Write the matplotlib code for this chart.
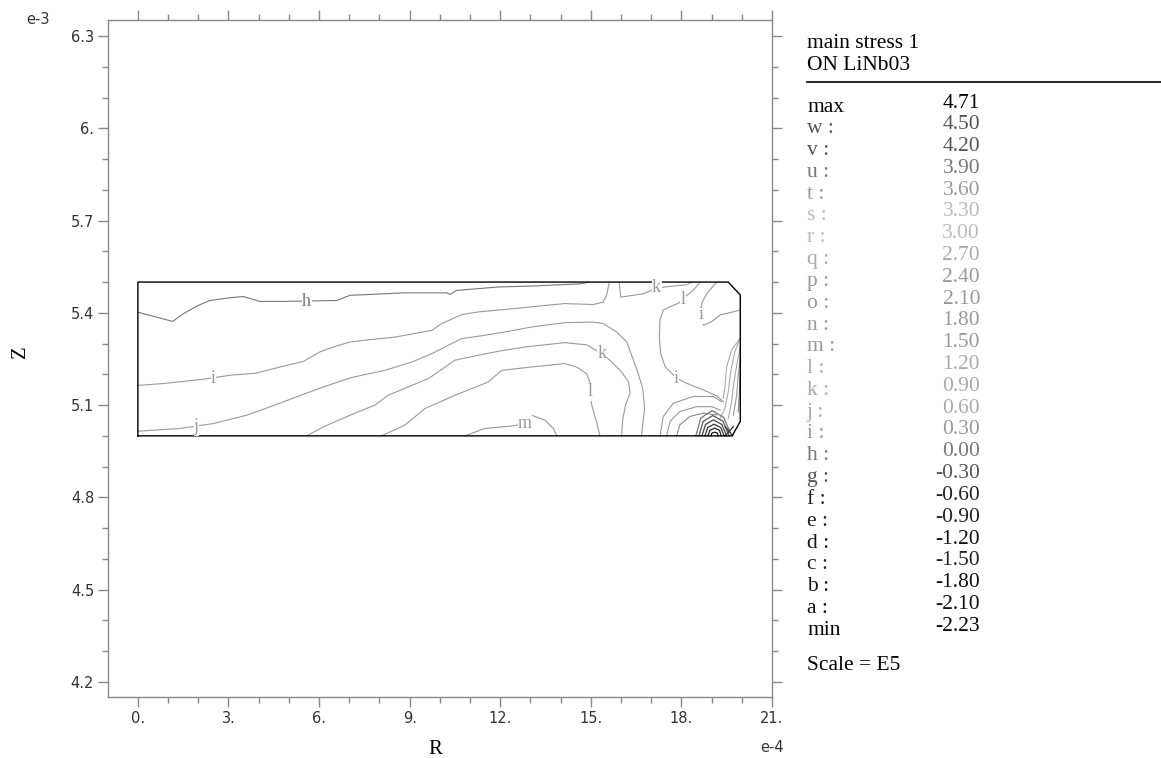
import matplotlib
matplotlib.use('Agg')
import matplotlib.pyplot as plt
from matplotlib.ticker import MultipleLocator, FixedLocator, FixedFormatter

# axis ticks
r_ticks = [0, 3, 6, 9, 12, 15, 18, 21]
r_labels = ['0.', '3.', '6.', '9.', '12.', '15.', '18.', '21.']
z_ticks = [4.2, 4.5, 4.8, 5.1, 5.4, 5.7, 6.0, 6.3]
z_labels = ['4.2', '4.5', '4.8', '5.1', '5.4', '5.7', '6.', '6.3']

# LiNbO3 domain outline (R e-4, Z e-3)
dom_r = [0, 0, 19.55, 19.95, 19.95, 19.68, 0]
dom_z = [5.0, 5.5, 5.5, 5.458, 5.047, 5.0, 5.0]

# iso lines
h_r = [0.0, 1.15, 1.50, 2.00, 2.38, 3.05, 3.49, 4.04, 4.70, 6.58, 7.02, 7.74, 8.84, 10.22, 10.34, 10.56, 11.94, 13.04, 13.92, 14.64, 14.81, 14.92]
h_z = [5.402, 5.372, 5.397, 5.424, 5.440, 5.449, 5.453, 5.437, 5.437, 5.440, 5.457, 5.460, 5.465, 5.465, 5.460, 5.473, 5.484, 5.487, 5.491, 5.494, 5.497, 5.500]

i_r = [0.0, 0.84, 2.16, 3.05, 3.93, 4.15, 4.92, 5.48, 6.03, 6.47, 7.02, 7.52, 8.51, 9.73, 10.06, 10.72, 11.27, 12.38, 13.48, 14.14, 15.08, 15.41, 15.52, 15.61]
i_z = [5.164, 5.170, 5.184, 5.197, 5.204, 5.210, 5.229, 5.242, 5.273, 5.289, 5.305, 5.311, 5.321, 5.343, 5.365, 5.394, 5.403, 5.413, 5.424, 5.430, 5.427, 5.435, 5.457, 5.498]

j_r = [0.0, 1.39, 2.50, 3.60, 4.37, 5.26, 6.14, 7.02, 7.41, 8.18, 9.07, 9.73, 10.39, 10.72, 11.49, 12.16, 13.04, 14.14, 15.08, 15.41, 15.85, 16.19, 16.35, 16.55, 16.72, 16.78, 16.72, 16.68]
j_z = [5.015, 5.024, 5.040, 5.067, 5.094, 5.127, 5.159, 5.188, 5.197, 5.213, 5.240, 5.267, 5.300, 5.316, 5.327, 5.338, 5.354, 5.368, 5.370, 5.365, 5.338, 5.305, 5.262, 5.208, 5.154, 5.089, 5.040, 5.0]

k_r = [5.59, 6.14, 7.02, 7.85, 8.29, 9.07, 9.62, 10.50, 11.27, 11.94, 12.82, 14.14, 14.86, 15.36, 15.63, 16.0, 16.25, 16.30, 16.15, 16.05, 16.02]
k_z = [5.0, 5.029, 5.067, 5.100, 5.132, 5.164, 5.186, 5.246, 5.262, 5.275, 5.289, 5.303, 5.296, 5.267, 5.246, 5.210, 5.175, 5.140, 5.100, 5.050, 5.0]

l_r = [8.07, 8.84, 9.51, 10.50, 11.60, 12.05, 13.04, 14.14, 14.53, 14.86, 14.97, 14.97, 15.03, 15.19, 15.30]
l_z = [5.0, 5.035, 5.089, 5.132, 5.175, 5.213, 5.224, 5.235, 5.224, 5.202, 5.175, 5.143, 5.100, 5.045, 5.0]

m_r = [10.83, 11.49, 12.38, 12.82, 12.95, 13.04, 13.48, 13.76, 13.87]
m_z = [5.0, 5.024, 5.032, 5.040, 5.056, 5.067, 5.051, 5.024, 5.0]

ktop_r = [15.94, 15.99, 16.74, 17.18, 17.62, 18.17, 18.35]
ktop_z = [5.5, 5.451, 5.462, 5.480, 5.486, 5.491, 5.5]

loop_r = [18.62, 18.40, 18.12, 17.90, 17.62, 17.40, 17.29, 17.27, 17.31, 17.46, 17.73, 17.84, 18.17, 18.73, 19.17, 19.39]
loop_z = [5.5, 5.474, 5.452, 5.431, 5.420, 5.409, 5.377, 5.322, 5.268, 5.225, 5.198, 5.187, 5.171, 5.149, 5.130, 5.111]

itop_r = [19.17, 18.84, 18.67, 18.64, 18.73, 19.00, 19.28, 19.95]
itop_z = [5.5, 5.463, 5.431, 5.393, 5.360, 5.371, 5.393, 5.409]

# lines hugging the right edge
ea_r = [19.95, 19.77, 19.63, 19.55, 19.44, 19.28]
ea_z = [5.321, 5.273, 5.208, 5.143, 5.089, 5.056]
eb_r = [19.95, 19.85, 19.74, 19.66, 19.55]
eb_z = [5.289, 5.240, 5.175, 5.110, 5.056]
ec_r = [19.95, 19.88, 19.83, 19.72]
ec_z = [5.251, 5.197, 5.132, 5.067]
ed_r = [19.95, 19.92, 19.88]
ed_z = [5.208, 5.143, 5.078]
ee_r = [19.94, 19.66, 19.50, 19.44, 19.39]
ee_z = [5.317, 5.279, 5.225, 5.160, 5.122]

# wide arcs around the corner singularity
w1_r = [17.29, 17.40, 17.73, 18.39, 19.06, 19.33]
w1_z = [5.0, 5.063, 5.106, 5.128, 5.128, 5.111]
w2_r = [17.51, 17.62, 17.95, 18.50, 19.00, 19.28]
w2_z = [5.0, 5.047, 5.079, 5.095, 5.095, 5.084]
w3_r = [17.84, 17.95, 18.28, 18.73, 19.17]
w3_z = [5.0, 5.036, 5.063, 5.074, 5.068]

# dense arcs at the corner
c1_r = [18.98, 19.01, 19.10, 19.19, 19.22]
c1_z = [5.0, 5.009, 5.012, 5.009, 5.0]
c2_r = [18.88, 18.94, 19.10, 19.26, 19.32]
c2_z = [5.0, 5.018, 5.025, 5.018, 5.0]
c3_r = [18.78, 18.87, 19.08, 19.30, 19.42]
c3_z = [5.0, 5.027, 5.038, 5.027, 5.0]
c4_r = [18.68, 18.80, 19.06, 19.34, 19.50]
c4_z = [5.0, 5.037, 5.052, 5.037, 5.0]
c5_r = [18.58, 18.72, 19.04, 19.38, 19.58]
c5_z = [5.0, 5.047, 5.066, 5.047, 5.0]
c6_r = [18.48, 18.64, 19.02, 19.40, 19.62]
c6_z = [5.0, 5.058, 5.082, 5.060, 5.01]
x1_r = [19.45, 19.72]
x1_z = [5.0, 5.03]
x2_r = [19.45, 19.70]
x2_z = [5.03, 5.0]

# in-line labels
lab_text = ['h', 'i', 'j', 'k', 'l', 'm', 'k', 'l', 'i', 'i']
lab_r = [5.59, 2.50, 1.94, 15.36, 14.97, 12.82, 17.18, 18.06, 18.64, 17.84]
lab_z = [5.437, 5.188, 5.029, 5.267, 5.143, 5.040, 5.482, 5.444, 5.393, 5.187]
lab_col = ['#777777', '#999999', '#999999', '#999999', '#999999', '#999999', '#999999', '#999999', '#999999', '#999999']

# legend
leg_names = ['max', 'w :', 'v :', 'u :', 't :', 's :', 'r :', 'q :', 'p :', 'o :', 'n :', 'm :', 'l :',
             'k :', 'j :', 'i :', 'h :', 'g :', 'f :', 'e :', 'd :', 'c :', 'b :', 'a :', 'min']
leg_values = ['4.71', '4.50', '4.20', '3.90', '3.60', '3.30', '3.00', '2.70', '2.40', '2.10', '1.80', '1.50', '1.20',
              '0.90', '0.60', '0.30', '0.00', '-0.30', '-0.60', '-0.90', '-1.20', '-1.50', '-1.80', '-2.10', '-2.23']
leg_colors = ['#000000', '#555555', '#555555', '#777777', '#999999', '#bbbbbb', '#bbbbbb', '#aaaaaa', '#999999',
              '#999999', '#999999', '#999999', '#aaaaaa', '#aaaaaa', '#aaaaaa', '#999999', '#777777', '#555555',
              '#222222', '#222222', '#111111', '#222222', '#111111', '#111111', '#000000']

W, H = 1161, 758
fig = plt.figure(figsize=(W / 100, H / 100), dpi=100)
ax = fig.add_axes([108 / W, 1 - 697 / H, (772 - 108) / W, (697 - 20) / H])

gray_lines = [(h_r, h_z, '#777777'), (i_r, i_z, '#999999'), (j_r, j_z, '#9a9a9a'), (k_r, k_z, '#9a9a9a'),
              (l_r, l_z, '#9a9a9a'), (m_r, m_z, '#999999'), (ktop_r, ktop_z, '#9a9a9a'),
              (loop_r, loop_z, '#9a9a9a'), (itop_r, itop_z, '#999999'),
              (ea_r, ea_z, '#aaaaaa'), (eb_r, eb_z, '#aaaaaa'), (ec_r, ec_z, '#999999'), (ed_r, ed_z, '#888888'),
              (ee_r, ee_z, '#aaaaaa'), (w1_r, w1_z, '#999999'), (w2_r, w2_z, '#999999'), (w3_r, w3_z, '#888888')]
for r, z, c in gray_lines:
    ax.plot(r, z, color=c, lw=0.8)

dark_lines = [(c6_r, c6_z, '#777777'), (c5_r, c5_z, '#555555'), (c4_r, c4_z, '#444444'),
              (c3_r, c3_z, '#333333'), (c2_r, c2_z, '#222222'), (c1_r, c1_z, '#111111'),
              (x1_r, x1_z, '#333333'), (x2_r, x2_z, '#333333')]
for r, z, c in dark_lines:
    ax.plot(r, z, color=c, lw=0.9)

ax.plot(dom_r, dom_z, color='black', lw=1.0)

for s, r, z, c in zip(lab_text, lab_r, lab_z, lab_col):
    ax.text(r, z, s, color=c, fontsize=13, family='Liberation Serif', ha='center', va='center',
            bbox=dict(facecolor='white', edgecolor='none', pad=0.3))

ax.set_xlim(-0.99, 21.0)
ax.set_ylim(4.151, 6.352)
ax.xaxis.set_major_locator(FixedLocator(r_ticks))
ax.xaxis.set_major_formatter(FixedFormatter(r_labels))
ax.yaxis.set_major_locator(FixedLocator(z_ticks))
ax.yaxis.set_major_formatter(FixedFormatter(z_labels))
ax.xaxis.set_minor_locator(MultipleLocator(1.0))
ax.yaxis.set_minor_locator(MultipleLocator(0.1))
ax.tick_params(which='both', direction='out', color='#888888', width=1, top=True, right=True,
               labelsize=10.5, labelcolor='#333333', pad=3)
ax.tick_params(which='major', length=7)
ax.tick_params(which='minor', length=4)
for sp in ax.spines.values():
    sp.set_color('#888888')
    sp.set_linewidth(1)

fig.text(38 / W, 1 - 20 / H, 'e-3', fontsize=10.5, color='#333333', ha='center', va='center')
fig.text(772 / W, 1 - 748 / H, 'e-4', fontsize=10.5, color='#333333', ha='center', va='center')
fig.text(435 / W, 1 - 749 / H, 'R', fontsize=15, family='Liberation Serif', ha='center', va='center')
fig.text(20 / W, 1 - 352 / H, 'Z', fontsize=15, family='Liberation Serif', rotation=90, ha='center', va='center')

# legend block
fs = 15.5
fig.text(807 / W, 1 - 43 / H, 'main stress 1', fontsize=fs, family='Liberation Serif', va='center')
fig.text(807 / W, 1 - 65 / H, 'ON LiNb03', fontsize=fs, family='Liberation Serif', va='center')
fig.add_artist(plt.Line2D([807 / W, 1.0], [1 - 82 / H, 1 - 82 / H], color='black', lw=1.2))
for n, (name, val, col) in enumerate(zip(leg_names, leg_values, leg_colors)):
    y = 103 + 21.8 * n
    fig.text(807 / W, 1 - (y + 4) / H, name, fontsize=fs, family='Liberation Serif', color=col, va='center')
    fig.text(980 / W, 1 - y / H, val, fontsize=fs, family='Liberation Serif', color=col, va='center', ha='right')
fig.text(807 / W, 1 - 666 / H, 'Scale = E5', fontsize=fs, family='Liberation Serif', va='center')

fig.savefig('out.png', dpi=100, facecolor='white')
